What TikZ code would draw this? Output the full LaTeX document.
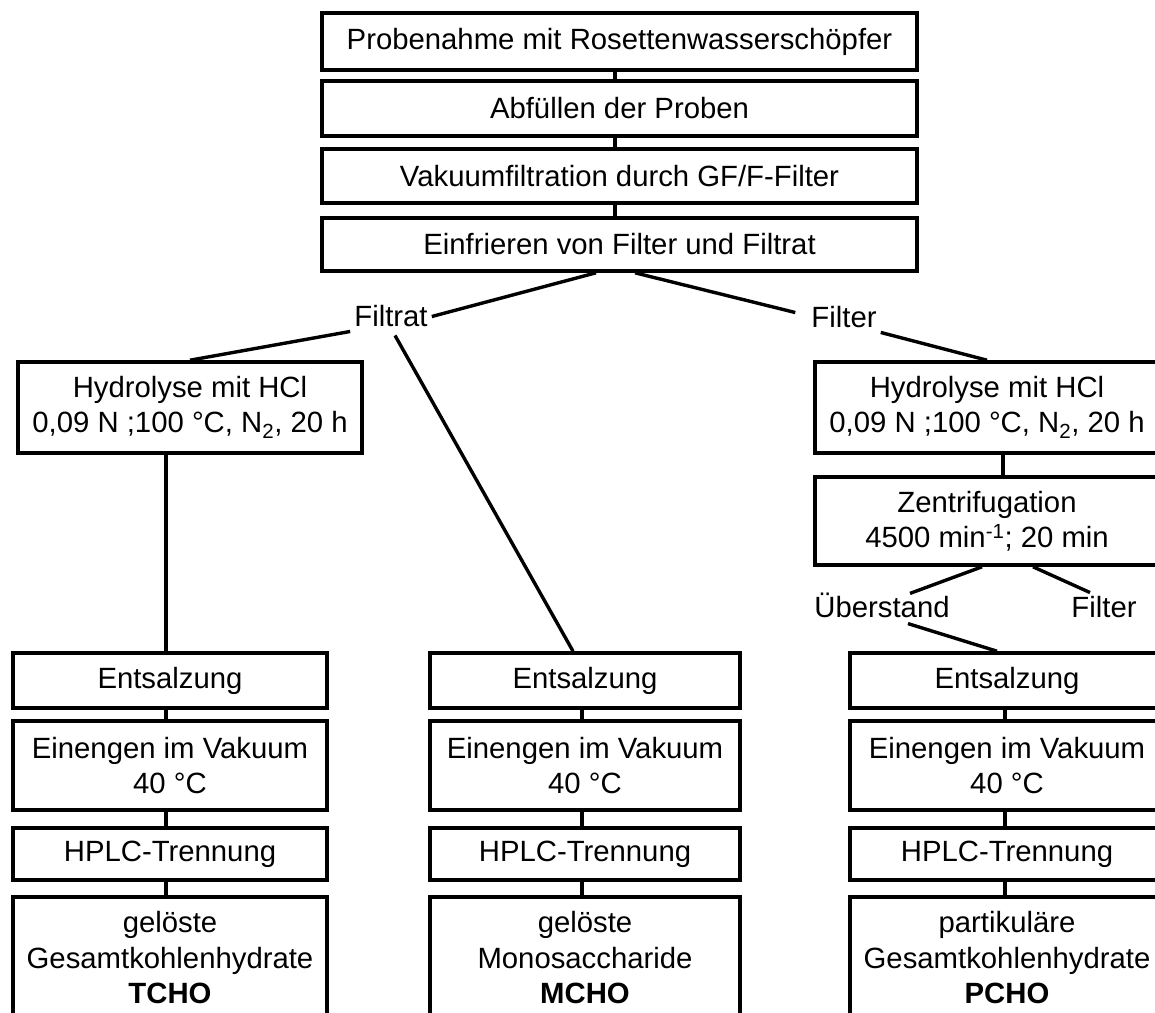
\documentclass[tikz,border=0pt]{standalone}
\usepackage{fontspec}
\setmainfont{Liberation Sans}
\usetikzlibrary{calc}
\begin{document}
\begin{tikzpicture}[x=1pt,y=-1pt,
  box/.style={draw, line width=3.6pt, align=center, inner sep=0pt, font=\fontsize{29.3}{35.5}\selectfont},
  topbox/.style={box, minimum width=595pt},
  hydbox/.style={box, minimum width=344pt},
  colbox/.style={box, minimum width=314pt},
  midbox/.style={box, minimum width=310pt},
  lbl/.style={inner sep=4pt, font=\fontsize{29.3}{35.5}\selectfont},
  conn/.style={line width=3.4pt}]
\useasboundingbox (0,0) rectangle (1155,1012);
\fill[white] (0,0) rectangle (1155,1012);
\clip (0,0) rectangle (1155,1012);
% top chain
\node[topbox, minimum height=57pt] (b1) at (619.5,41.5) {Probenahme mit Rosettenwasserschöpfer};
\node[topbox, minimum height=55pt] (b2) at (619.5,108.5) {Abfüllen der Proben};
\node[topbox, minimum height=54pt] (b3) at (619.5,176) {Vakuumfiltration durch GF/F-Filter};
\node[topbox, minimum height=53pt] (b4) at (619.5,244.5) {Einfrieren von Filter und Filtrat};
\coordinate (cT) at (615,0);
\draw[conn] (b1.south -| cT) -- (b2.north -| cT);
\draw[conn] (b2.south -| cT) -- (b3.north -| cT);
\draw[conn] (b3.south -| cT) -- (b4.north -| cT);
% labels
\node[lbl] (filtrat) at (391,316.5) {Filtrat};
\node[lbl] (filter) at (844,317.5) {Filter};
\draw[conn] ($(b4.south)+(-23.5,0)$) -- (filtrat.east);
\draw[conn] ($(b4.south)+(15.5,0)$) -- ($(filter.west)+(-12,-5)$);
% hydrolysis boxes
\node[hydbox, minimum height=91pt] (hydL) at (190,407.5) {Hydrolyse mit HCl\\0,09 N ;100 °C, N\textsubscript{2}, 20 h};
\node[hydbox, minimum height=91pt] (hydR) at (987,407.5) {Hydrolyse mit HCl\\0,09 N ;100 °C, N\textsubscript{2}, 20 h};
\node[hydbox, minimum height=88pt] (zen) at (987,521) {Zentrifugation\\4500 min\textsuperscript{-1}; 20 min};
\draw[conn] (filtrat.south west) -- (hydL.north);
\draw[conn] (filter.south east) -- (hydR.north);
\coordinate (cZ) at (1003,0);
\draw[conn] (hydR.south -| cZ) -- (zen.north -| cZ);
\node[lbl] (ueb) at (882,605) {Überstand};
\node[lbl] (filter2) at (1104,607.5) {Filter};
\draw[conn] ($(zen.south)+(-5,0)$) -- ($(ueb.north)+(28,5)$);
\draw[conn] ($(zen.south)+(46,0)$) -- ($(filter2.north)+(-14,0)$);
% left column
\node[colbox, minimum height=55pt] (entL) at (170,680.5) {Entsalzung};
\node[colbox, minimum height=89pt] (einL) at (170,765.5) {Einengen im Vakuum\\40 °C};
\node[colbox, minimum height=52pt] (hplcL) at (170,854) {HPLC-Trennung};
\node[colbox, minimum height=122pt] (finL) at (170,958) {gelöste\\Gesamtkohlenhydrate\\\textbf{TCHO}};
% middle column
\node[midbox, minimum height=55pt] (entM) at (585,680.5) {Entsalzung};
\node[midbox, minimum height=89pt] (einM) at (585,765.5) {Einengen im Vakuum\\40 °C};
\node[midbox, minimum height=52pt] (hplcM) at (585,854) {HPLC-Trennung};
\node[midbox, minimum height=122pt] (finM) at (585,958) {gelöste\\Monosaccharide\\\textbf{MCHO}};
% right column
\node[colbox, minimum height=55pt] (entR) at (1007,680.5) {Entsalzung};
\node[colbox, minimum height=89pt] (einR) at (1007,765.5) {Einengen im Vakuum\\40 °C};
\node[colbox, minimum height=52pt] (hplcR) at (1007,854) {HPLC-Trennung};
\node[colbox, minimum height=122pt] (finR) at (1007,958) {partikuläre\\Gesamtkohlenhydrate\\\textbf{PCHO}};
% connectors
\draw[conn] ($(filtrat.south)+(4,4)$) -- ($(entM.north)+(-12,0)$);
\draw[conn] ($(ueb.south)+(26,2)$) -- ($(entR.north)+(-10,0)$);
\coordinate (cL) at (166,0);
\coordinate (cM) at (582,0);
\coordinate (cR) at (1005,0);
\draw[conn] (hydL.south -| cL) -- (entL.north -| cL);
\foreach \c/\a/\b in {cL/entL/einL, cL/einL/hplcL, cL/hplcL/finL,
                      cM/entM/einM, cM/einM/hplcM, cM/hplcM/finM,
                      cR/entR/einR, cR/einR/hplcR, cR/hplcR/finR}
  \draw[conn] (\a.south -| \c) -- (\b.north -| \c);
\end{tikzpicture}
\end{document}
